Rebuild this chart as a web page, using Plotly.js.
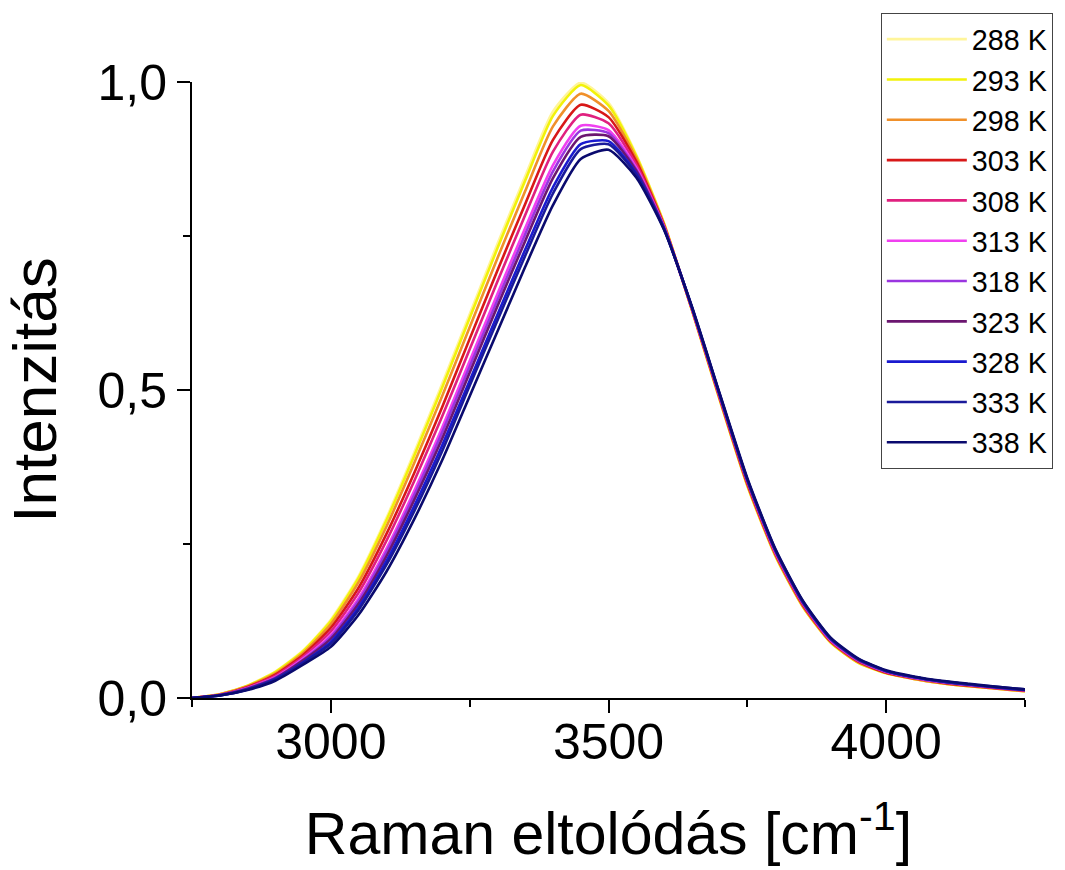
<!DOCTYPE html>
<html>
<head>
<meta charset="utf-8">
<script src="https://cdn.plot.ly/plotly-3.0.1.min.js"></script>
<style>html,body{margin:0;padding:0;background:#fff;}#chart{width:1065px;height:870px;}</style>
</head>
<body>
<div id="chart"></div>
<script>
const ramanShift = [2750,2800,2850,2900,2950,3000,3050,3100,3150,3200,3250,3300,3350,3400,3450,3500,3550,3600,3650,3700,3750,3800,3850,3900,3950,4000,4050,4100,4150,4200,4250];

const seriesNames = ["288 K","293 K","298 K","303 K","308 K","313 K","318 K","323 K","328 K","333 K","338 K"];
const seriesColors = ["#FFF59A","#F2F20A","#F0902A","#D81818","#E0207F","#F040F0","#9A35E0","#6B1670","#1A1ACF","#1A1A9A","#0A0A6E"];

const i288 = [0,0.006,0.020,0.043,0.077,0.127,0.198,0.292,0.398,0.509,0.623,0.737,0.847,0.952,0.999,0.966,0.882,0.771,0.630,0.485,0.344,0.231,0.148,0.090,0.057,0.040,0.031,0.024,0.019,0.015,0.011];
const i293 = [0,0.006,0.020,0.042,0.076,0.125,0.195,0.288,0.393,0.503,0.617,0.730,0.840,0.945,0.995,0.962,0.880,0.770,0.630,0.485,0.345,0.232,0.148,0.090,0.057,0.040,0.031,0.024,0.019,0.015,0.011];
const i298 = [0,0.006,0.019,0.040,0.073,0.120,0.188,0.278,0.381,0.489,0.602,0.714,0.823,0.928,0.981,0.953,0.876,0.769,0.631,0.486,0.346,0.233,0.149,0.091,0.058,0.041,0.031,0.024,0.019,0.015,0.011];
const i303 = [0,0.005,0.018,0.038,0.070,0.114,0.179,0.266,0.365,0.471,0.583,0.694,0.802,0.906,0.963,0.943,0.871,0.767,0.632,0.488,0.348,0.235,0.151,0.092,0.059,0.041,0.032,0.025,0.020,0.016,0.012];
const i308 = [0,0.005,0.017,0.036,0.067,0.108,0.171,0.255,0.352,0.456,0.566,0.676,0.784,0.887,0.947,0.933,0.866,0.766,0.632,0.489,0.350,0.236,0.152,0.093,0.060,0.042,0.033,0.026,0.021,0.016,0.012];
const i313 = [0,0.005,0.016,0.034,0.064,0.102,0.162,0.242,0.336,0.438,0.547,0.656,0.763,0.865,0.929,0.922,0.861,0.765,0.633,0.491,0.352,0.238,0.154,0.094,0.061,0.043,0.033,0.026,0.021,0.017,0.013];
const i318 = [0,0.005,0.016,0.033,0.062,0.099,0.158,0.237,0.329,0.430,0.538,0.646,0.753,0.855,0.921,0.917,0.858,0.764,0.634,0.491,0.352,0.239,0.154,0.095,0.061,0.043,0.033,0.026,0.021,0.017,0.013];
const i323 = [0,0.005,0.015,0.032,0.061,0.096,0.153,0.230,0.321,0.420,0.528,0.636,0.742,0.844,0.911,0.912,0.856,0.763,0.634,0.492,0.353,0.240,0.155,0.096,0.062,0.044,0.034,0.027,0.022,0.017,0.013];
const i328 = [0,0.004,0.014,0.031,0.058,0.091,0.147,0.222,0.311,0.409,0.515,0.622,0.728,0.829,0.899,0.904,0.852,0.762,0.635,0.493,0.355,0.241,0.156,0.096,0.063,0.044,0.034,0.027,0.022,0.017,0.013];
const i333 = [0,0.004,0.014,0.030,0.057,0.088,0.143,0.216,0.303,0.400,0.507,0.613,0.718,0.819,0.891,0.899,0.850,0.761,0.635,0.494,0.355,0.242,0.157,0.097,0.063,0.044,0.034,0.027,0.022,0.018,0.014];
const i338 = [0,0.004,0.013,0.028,0.054,0.083,0.135,0.205,0.290,0.385,0.490,0.595,0.700,0.800,0.875,0.890,0.845,0.760,0.636,0.495,0.357,0.243,0.158,0.098,0.064,0.045,0.035,0.028,0.023,0.018,0.014];

const allSeries = [i288,i293,i298,i303,i308,i313,i318,i323,i328,i333,i338];

const FONT = "Liberation Sans, Arial, sans-serif";

const traces = allSeries.map((ys, k) => ({
  x: ramanShift,
  y: ys,
  type: "scatter",
  mode: "lines",
  name: seriesNames[k],
  line: {color: seriesColors[k], width: 2.6, shape: "spline", smoothing: 0.6}
}));

const layout = {
  width: 1065,
  height: 870,
  paper_bgcolor: "#ffffff",
  plot_bgcolor: "#ffffff",
  separators: ",.",
  margin: {l: 192, r: 35, t: 82, b: 172, pad: 0},
  font: {family: FONT, color: "#000"},
  showlegend: true,
  legend: {
    x: 1.0334, y: 1.112, xanchor: "right", yanchor: "top",
    bordercolor: "#444", borderwidth: 1, bgcolor: "#fff",
    font: {family: FONT, size: 28.7, color: "#000"},
    maxheight: 560,
    itemwidth: 80,
    tracegroupgap: 0
  },
  xaxis: {
    range: [2750, 4250],
    tickmode: "linear", tick0: 3000, dtick: 500,
    ticks: "outside", ticklen: 13, tickwidth: 2, tickcolor: "#000",
    ticklabelstandoff: -14,
    minor: {tickmode: "linear", tick0: 2750, dtick: 250, ticks: "outside", ticklen: 7, tickwidth: 2, tickcolor: "#000", showgrid: false},
    showline: true, linecolor: "#000", linewidth: 2, mirror: false,
    showgrid: false, zeroline: false,
    tickfont: {family: FONT, size: 50, color: "#000"},
    title: {text: "Raman eltolódás [cm<sup>-1</sup>]", font: {family: FONT, size: 59, color: "#000"}, standoff: 44},
    automargin: false
  },
  yaxis: {
    range: [0, 1.0],
    tickmode: "linear", tick0: 0, dtick: 0.5, tickformat: ".1f",
    ticks: "outside", ticklen: 13, tickwidth: 2, tickcolor: "#000",
    minor: {tickmode: "linear", tick0: 0, dtick: 0.25, ticks: "outside", ticklen: 7, tickwidth: 2, tickcolor: "#000", showgrid: false},
    showline: true, linecolor: "#000", linewidth: 2, mirror: false,
    showgrid: false, zeroline: false,
    tickfont: {family: FONT, size: 50, color: "#000"},
    title: {text: "Intenzitás", font: {family: FONT, size: 62, color: "#000"}, standoff: 22},
    automargin: false
  }
};

Plotly.newPlot("chart", traces, layout, {staticPlot: true, displayModeBar: false});
</script>
</body>
</html>
